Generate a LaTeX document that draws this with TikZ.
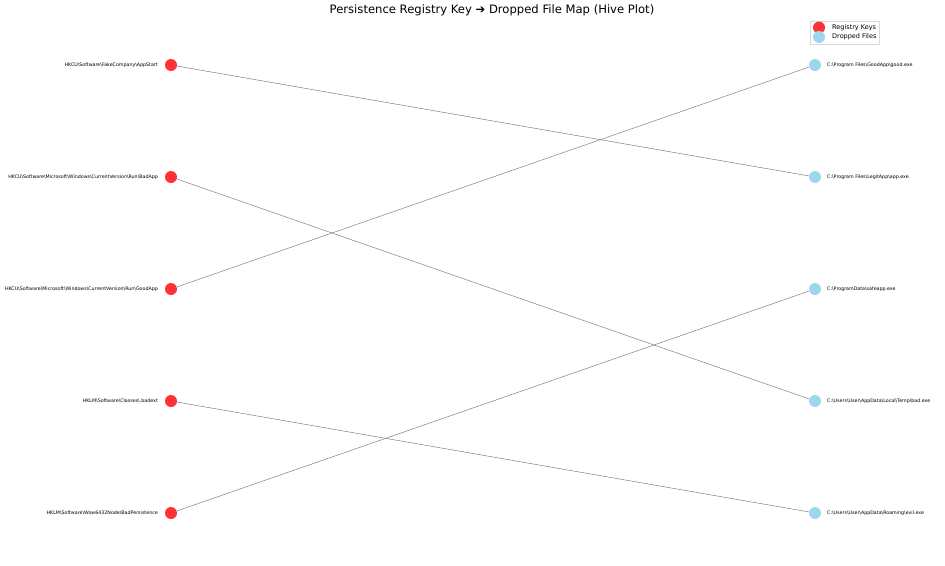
\documentclass[tikz,border=0pt]{standalone}
\usepackage{fontspec}
\setmainfont{DejaVu Sans}
\definecolor{keyred}{HTML}{FF3333}
\definecolor{fileblue}{HTML}{9FD6EE}
\tikzset{
  keynode/.style={circle,fill=keyred,minimum size=12pt,inner sep=0pt},
  filenode/.style={circle,fill=fileblue,minimum size=12pt,inner sep=0pt},
  keylabel/.style={anchor=east,font=\fontsize{4.75}{5}\selectfont,inner sep=0pt},
  filelabel/.style={anchor=west,font=\fontsize{4.75}{5}\selectfont,inner sep=0pt},
  link/.style={draw=gray,line width=0.5pt}
}
\begin{document}
\begin{tikzpicture}[x=1pt,y=-1pt]
  \useasboundingbox (0,0) rectangle (945,565);
  \node (title) at (492,10) {\fontsize{11.6}{13}\selectfont Persistence Registry Key ➔ Dropped File Map (Hive Plot)};
  % registry keys
  \node[keynode] (k1) at (171,65) {};
  \node[keynode] (k2) at (171,177) {};
  \node[keynode] (k3) at (171,289) {};
  \node[keynode] (k4) at (171,401) {};
  \node[keynode] (k5) at (171,513) {};
  \node[keylabel] (k1l) at (158,65) {HKCU\textbackslash Software\textbackslash FakeCompany\textbackslash AppStart};
  \node[keylabel] (k2l) at (158,177) {HKCU\textbackslash Software\textbackslash Microsoft\textbackslash Windows\textbackslash CurrentVersion\textbackslash Run\textbackslash BadApp};
  \node[keylabel] (k3l) at (158,289) {HKCU\textbackslash Software\textbackslash Microsoft\textbackslash Windows\textbackslash CurrentVersion\textbackslash Run\textbackslash GoodApp};
  \node[keylabel] (k4l) at (158,401) {HKLM\textbackslash Software\textbackslash Classes\textbackslash .badext};
  \node[keylabel] (k5l) at (158,513) {HKLM\textbackslash Software\textbackslash Wow6432Node\textbackslash BadPersistence};
  % dropped files
  \node[filenode] (f1) at (815,65) {};
  \node[filenode] (f2) at (815,177) {};
  \node[filenode] (f3) at (815,289) {};
  \node[filenode] (f4) at (815,401) {};
  \node[filenode] (f5) at (815,513) {};
  \node[filelabel] (f1l) at (827,65) {C:\textbackslash Program Files\textbackslash GoodApp\textbackslash good.exe};
  \node[filelabel] (f2l) at (827,177) {C:\textbackslash Program Files\textbackslash LegitApp\textbackslash app.exe};
  \node[filelabel] (f3l) at (827,289) {C:\textbackslash ProgramData\textbackslash safeapp.exe};
  \node[filelabel] (f4l) at (827,401) {C:\textbackslash Users\textbackslash User\textbackslash AppData\textbackslash Local\textbackslash Temp\textbackslash bad.exe};
  \node[filelabel] (f5l) at (827,513) {C:\textbackslash Users\textbackslash User\textbackslash AppData\textbackslash Roaming\textbackslash evil.exe};
  % links
  \begin{scope}[on background layer/.try]
    \draw[link] (k1) -- (f2);
    \draw[link] (k2) -- (f4);
    \draw[link] (k3) -- (f1);
    \draw[link] (k4) -- (f5);
    \draw[link] (k5) -- (f3);
  \end{scope}
  % legend
  \node[draw=black!15,line width=0.4pt,minimum width=69pt,minimum height=23pt,inner sep=0pt] (legend) at (844.5,32.5) {};
  \node[keynode] (lk) at (819,27.5) {};
  \node[filenode] (lf) at (819,37) {};
  \node[anchor=west,font=\fontsize{6.5}{7}\selectfont,inner sep=0pt] (lkt) at (832,27.5) {Registry Keys};
  \node[anchor=west,font=\fontsize{6.5}{7}\selectfont,inner sep=0pt] (lft) at (832,37) {Dropped Files};
\end{tikzpicture}
\end{document}
